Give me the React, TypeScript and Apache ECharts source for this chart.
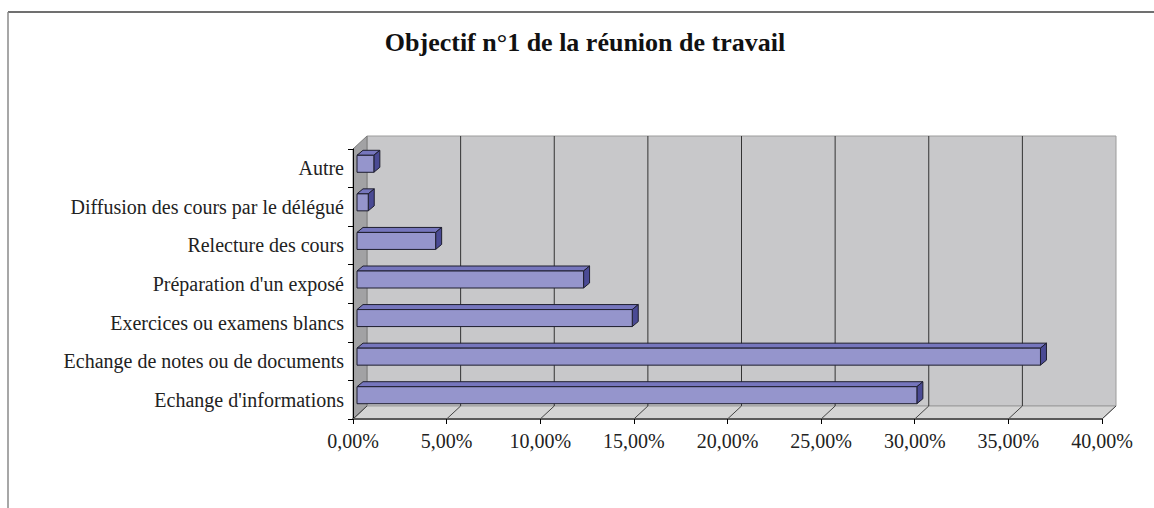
import React, { useEffect, useRef } from "react";
import * as echarts from "echarts";

const TITLE = "Objectif n°1 de la réunion de travail";
const categories = [
  "Autre",
  "Diffusion des cours par le délégué",
  "Relecture des cours",
  "Préparation d'un exposé",
  "Exercices ou examens blancs",
  "Echange de notes ou de documents",
  "Echange d'informations",
];
const values = [0.009, 0.006, 0.042, 0.121, 0.147, 0.365, 0.299];
const xTicks = [0, 0.05, 0.1, 0.15, 0.2, 0.25, 0.3, 0.35, 0.4];

const DX = 14;
const DY = 13;
const BAR_OX = 4;
const BAR_OY = -4.5;
const BAR_DX = 6;
const BAR_DY = 5;
const BAR_H = 17;

const FONT = "'Liberation Serif', 'Times New Roman', serif";

function fmtPct(v: number): string {
  return (v * 100).toFixed(2).replace(".", ",") + "%";
}

export default function App() {
  const ref = useRef<HTMLDivElement>(null);
  useEffect(() => {
    const chart = echarts.init(ref.current!, null, { renderer: "svg" });
    chart.setOption({
      animation: false,
      backgroundColor: "#ffffff",
      grid: { left: 353, top: 149, width: 749, height: 270, containLabel: false },
      xAxis: {
        type: "value",
        min: 0,
        max: 0.4,
        interval: 0.05,
        z: 10,
        axisLine: { show: true, lineStyle: { color: "#5a5a5a", width: 2 } },
        axisTick: { show: true, length: 5, lineStyle: { color: "#000", width: 1 } },
        splitLine: { show: false },
        axisLabel: {
          formatter: fmtPct,
          margin: 12,
          fontFamily: FONT,
          fontSize: 20,
          color: "#222",
        },
      },
      yAxis: {
        type: "category",
        data: categories,
        inverse: true,
        z: 10,
        axisLine: { show: true, lineStyle: { color: "#000", width: 1 } },
        axisTick: { show: true, length: 5, lineStyle: { color: "#000", width: 1 } },
        splitLine: { show: false },
        axisLabel: {
          margin: 9,
          fontFamily: FONT,
          fontSize: 20,
          color: "#222",
        },
      },
      graphic: [
        {
          type: "line",
          shape: { x1: 8, y1: 12, x2: 1154, y2: 12 },
          style: { stroke: "#404040", lineWidth: 1.3 },
        },
        {
          type: "line",
          shape: { x1: 8, y1: 12, x2: 8, y2: 508 },
          style: { stroke: "#8a8a8a", lineWidth: 1.5 },
        },
        {
          type: "text",
          x: 585,
          y: 42,
          style: {
            text: TITLE,
            fontFamily: FONT,
            fontWeight: "bold",
            fontSize: 26,
            fill: "#111",
            textAlign: "center",
            textVerticalAlign: "middle",
          },
        },
      ],
      series: [
        {
          type: "custom",
          name: "walls",
          coordinateSystem: "cartesian2d",
          z: 1,
          silent: true,
          data: [[0, 0]],
          encode: { x: 0, y: 1 },
          renderItem: (params: any, api: any) => {
            const cs = params.coordSys;
            const x = cs.x, y = cs.y, w = cs.width, h = cs.height;
            const children: any[] = [];
            children.push({
              type: "rect",
              shape: { x: x + DX, y: y - DY, width: w, height: h },
              style: { fill: "#c8c8ca", stroke: "#9c9c9c", lineWidth: 1 },
            });
            children.push({
              type: "polygon",
              shape: { points: [[x, y + h], [x + w, y + h], [x + w + DX, y + h - DY], [x + DX, y + h - DY]] },
              style: { fill: "#d4d4d4", stroke: "#9c9c9c", lineWidth: 1 },
            });
            children.push({
              type: "polygon",
              shape: { points: [[x, y], [x + DX, y - DY], [x + DX, y + h - DY], [x, y + h]] },
              style: { fill: "#a2a2a4", stroke: "#7c7c7c", lineWidth: 1 },
            });
            xTicks.forEach((t) => {
              const px = api.coord([t, 0])[0];
              if (t > 0 && t < 0.4) {
                children.push({
                  type: "line",
                  shape: { x1: px + DX, y1: y - DY, x2: px + DX, y2: y + h - DY },
                  style: { stroke: "#333", lineWidth: 1 },
                });
              }
              children.push({
                type: "line",
                shape: { x1: px, y1: y + h, x2: px + DX, y2: y + h - DY },
                style: { stroke: "#444", lineWidth: 1 },
              });
            });
            return { type: "group", children };
          },
        },
        {
          type: "custom",
          name: "bars",
          coordinateSystem: "cartesian2d",
          z: 3,
          data: values.map((v, i) => [v, i]),
          encode: { x: 0, y: 1 },
          renderItem: (params: any, api: any) => {
            const v = api.value(0);
            const c = api.value(1);
            const p0 = api.coord([0, c]);
            const p1 = api.coord([v, c]);
            const x0 = p0[0] + BAR_OX;
            const x1 = p1[0] + BAR_OX;
            const yc = p0[1] + BAR_OY;
            const yt = yc - BAR_H / 2;
            const yb = yc + BAR_H / 2;
            const stroke = { stroke: "#1e1e2e", lineWidth: 1, lineJoin: "round" };
            return {
              type: "group",
              children: [
                {
                  type: "polygon",
                  shape: { points: [[x0, yt], [x1, yt], [x1 + BAR_DX, yt - BAR_DY], [x0 + BAR_DX, yt - BAR_DY]] },
                  style: { fill: "#7676bd", ...stroke },
                },
                {
                  type: "polygon",
                  shape: { points: [[x1, yt], [x1 + BAR_DX, yt - BAR_DY], [x1 + BAR_DX, yb - BAR_DY], [x1, yb]] },
                  style: { fill: "#4a4a94", ...stroke },
                },
                {
                  type: "rect",
                  shape: { x: x0, y: yt, width: x1 - x0, height: BAR_H },
                  style: { fill: "#9595cc", ...stroke },
                },
              ],
            };
          },
        },
      ],
    });
    return () => chart.dispose();
  }, []);
  return (
    <div
      ref={ref}
      style={{ position: "fixed", left: 0, top: 0, width: 1154, height: 508 }}
    />
  );
}
